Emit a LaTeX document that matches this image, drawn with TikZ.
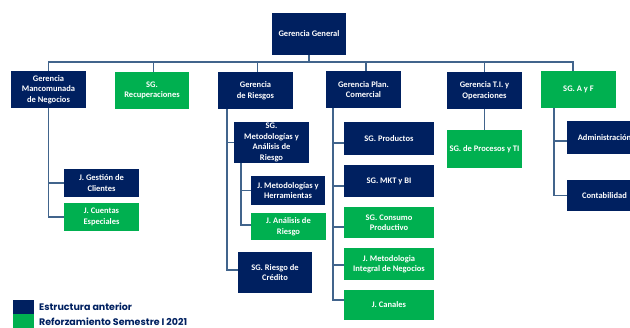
\documentclass[tikz,border=0pt]{standalone}
\usepackage{fontspec}
\setmainfont{Carlito}
\newfontfamily\legfont{Poppins}
\definecolor{navy}{RGB}{0,32,96}
\definecolor{grn}{RGB}{0,176,80}
\definecolor{lnc}{RGB}{65,100,140}
\tikzset{
  bx/.style={inner sep=0pt, align=center, text=white,
    font=\bfseries\fontsize{8.5}{10.5}\selectfont},
  nv/.style={bx, fill=navy},
  gn/.style={bx, fill=grn},
  conn/.style={draw=lnc, line width=1.5pt},
  leg/.style={anchor=base west, inner sep=0pt, text=navy, font=\legfont\bfseries\fontsize{9.5}{11}\selectfont},
}
\begin{document}
\begin{tikzpicture}[x=1pt,y=-1pt]
\useasboundingbox (0,0) rectangle (630,328);
\clip (0,0) rectangle (630,328);
% level 0
\node[nv, minimum width=74pt, minimum height=42pt] (gg) at (309,34) {Gerencia General};
% level 1
\node[nv, minimum width=75pt, minimum height=37pt] (gm) at (48.5,89.5) {Gerencia\\Mancomunada\\de Negocios};
\node[gn, minimum width=74pt, minimum height=37pt] (rec) at (152,90.5) {SG.\\Recuperaciones};
\node[nv, minimum width=75pt, minimum height=37pt] (gr) at (255.5,90.5) {Gerencia\\de Riesgos};
\node[nv, minimum width=75pt, minimum height=37pt] (gp) at (363.5,89.5) {Gerencia Plan.\\Comercial};
\node[nv, minimum width=75pt, minimum height=37pt] (gt) at (484.5,90.5) {Gerencia T.I. y\\Operaciones};
\node[gn, minimum width=75pt, minimum height=37pt] (af) at (578.5,89.5) {SG. A y F};
% mancomunada
\node[nv, minimum width=75pt, minimum height=28pt] (jg) at (101.5,183) {J. Gestión de\\Clientes};
\node[gn, minimum width=75pt, minimum height=28pt] (jc) at (101.5,217) {J. Cuentas\\Especiales};
% riesgos
\node[nv, minimum width=75pt, minimum height=41pt] (sgm) at (271.5,142.5) {SG.\\Metodologías y\\Análisis de\\Riesgo};
\node[nv, minimum width=74pt, minimum height=29pt] (jmh) at (288,190.5) {J. Metodologías y\\Herramientas};
\node[gn, minimum width=75pt, minimum height=27pt] (jar) at (288.5,226.5) {J. Análisis de\\Riesgo};
\node[nv, minimum width=74pt, minimum height=41pt] (src) at (275,272.5) {SG. Riesgo de\\Crédito};
% plan comercial
\node[nv, minimum width=90pt, minimum height=33pt] (prod) at (389,138.5) {SG. Productos};
\node[nv, minimum width=90pt, minimum height=32pt] (mkt) at (389,181) {SG. MKT y BI};
\node[gn, minimum width=90pt, minimum height=31pt] (cons) at (389,222.5) {SG. Consumo\\Productivo};
\node[gn, minimum width=90pt, minimum height=32pt] (jmi) at (389,264) {J. Metodologia\\Integral de Negocios};
\node[gn, minimum width=90pt, minimum height=30pt] (can) at (389,305) {J. Canales};
% TI
\node[gn, minimum width=75pt, minimum height=38pt] (proc) at (484.5,149) {SG. de Procesos y TI};
% A y F
\node[nv, minimum width=75pt, minimum height=33pt] (adm) at (604.5,137.5) {Administración};
\node[nv, minimum width=75pt, minimum height=31pt] (cont) at (604.5,195.5) {Contabilidad};

% connectors
\draw[conn] (gg.south) -- ++(0,7) coordinate (bus) -| (gm.north);
\draw[conn] (bus) -| ([xshift=1.5pt]rec.north);
\draw[conn] (bus) -| ([xshift=2pt]gr.north);
\draw[conn] (bus) -| ([xshift=2.5pt]gp.north);
\draw[conn] (bus) -| (gt.north);
\draw[conn] (bus) -| ([xshift=-5.5pt]af.north);

\draw[conn] (gm.south) |- (jg.west);
\draw[conn] (gm.south) |- (jc.west);

\draw[conn] ([xshift=9pt]gr.south west) |- (sgm.west);
\draw[conn] ([xshift=9pt]gr.south west) |- ([yshift=2.5pt]src.west);
\draw[conn] ([xshift=7pt]sgm.south west) |- (jmh.west);
\draw[conn] ([xshift=7pt]sgm.south west) |- ([yshift=1.5pt]jar.west);

\draw[conn] ([xshift=7pt]gp.south west) |- ([yshift=-4.5pt]prod.west);
\draw[conn] ([xshift=7pt]gp.south west) |- ([yshift=-5pt]mkt.west);
\draw[conn] ([xshift=7pt]gp.south west) |- ([yshift=-4.5pt]cons.west);
\draw[conn] ([xshift=7pt]gp.south west) |- ([yshift=-1pt]jmi.west);
\draw[conn] ([xshift=7pt]gp.south west) |- ([yshift=5pt]can.west);

\draw[conn] (gt.south) -- (proc.north);

\draw[conn] ([xshift=13pt]af.south west) |- ([yshift=-3.5pt]adm.west);
\draw[conn] ([xshift=13pt]af.south west) |- (cont.west);

% legend
\node[fill=navy, minimum width=21pt, minimum height=14pt, inner sep=0pt] (lg1) at (23.5,307) {};
\node[fill=grn, minimum width=21pt, minimum height=16pt, inner sep=0pt] (lg2) at (23.5,322) {};
\node[leg] (lt1) at (39,311) {Estructura anterior};
\node[leg] (lt2) at (39,325.5) {Reforzamiento Semestre I 2021};
\end{tikzpicture}
\end{document}
